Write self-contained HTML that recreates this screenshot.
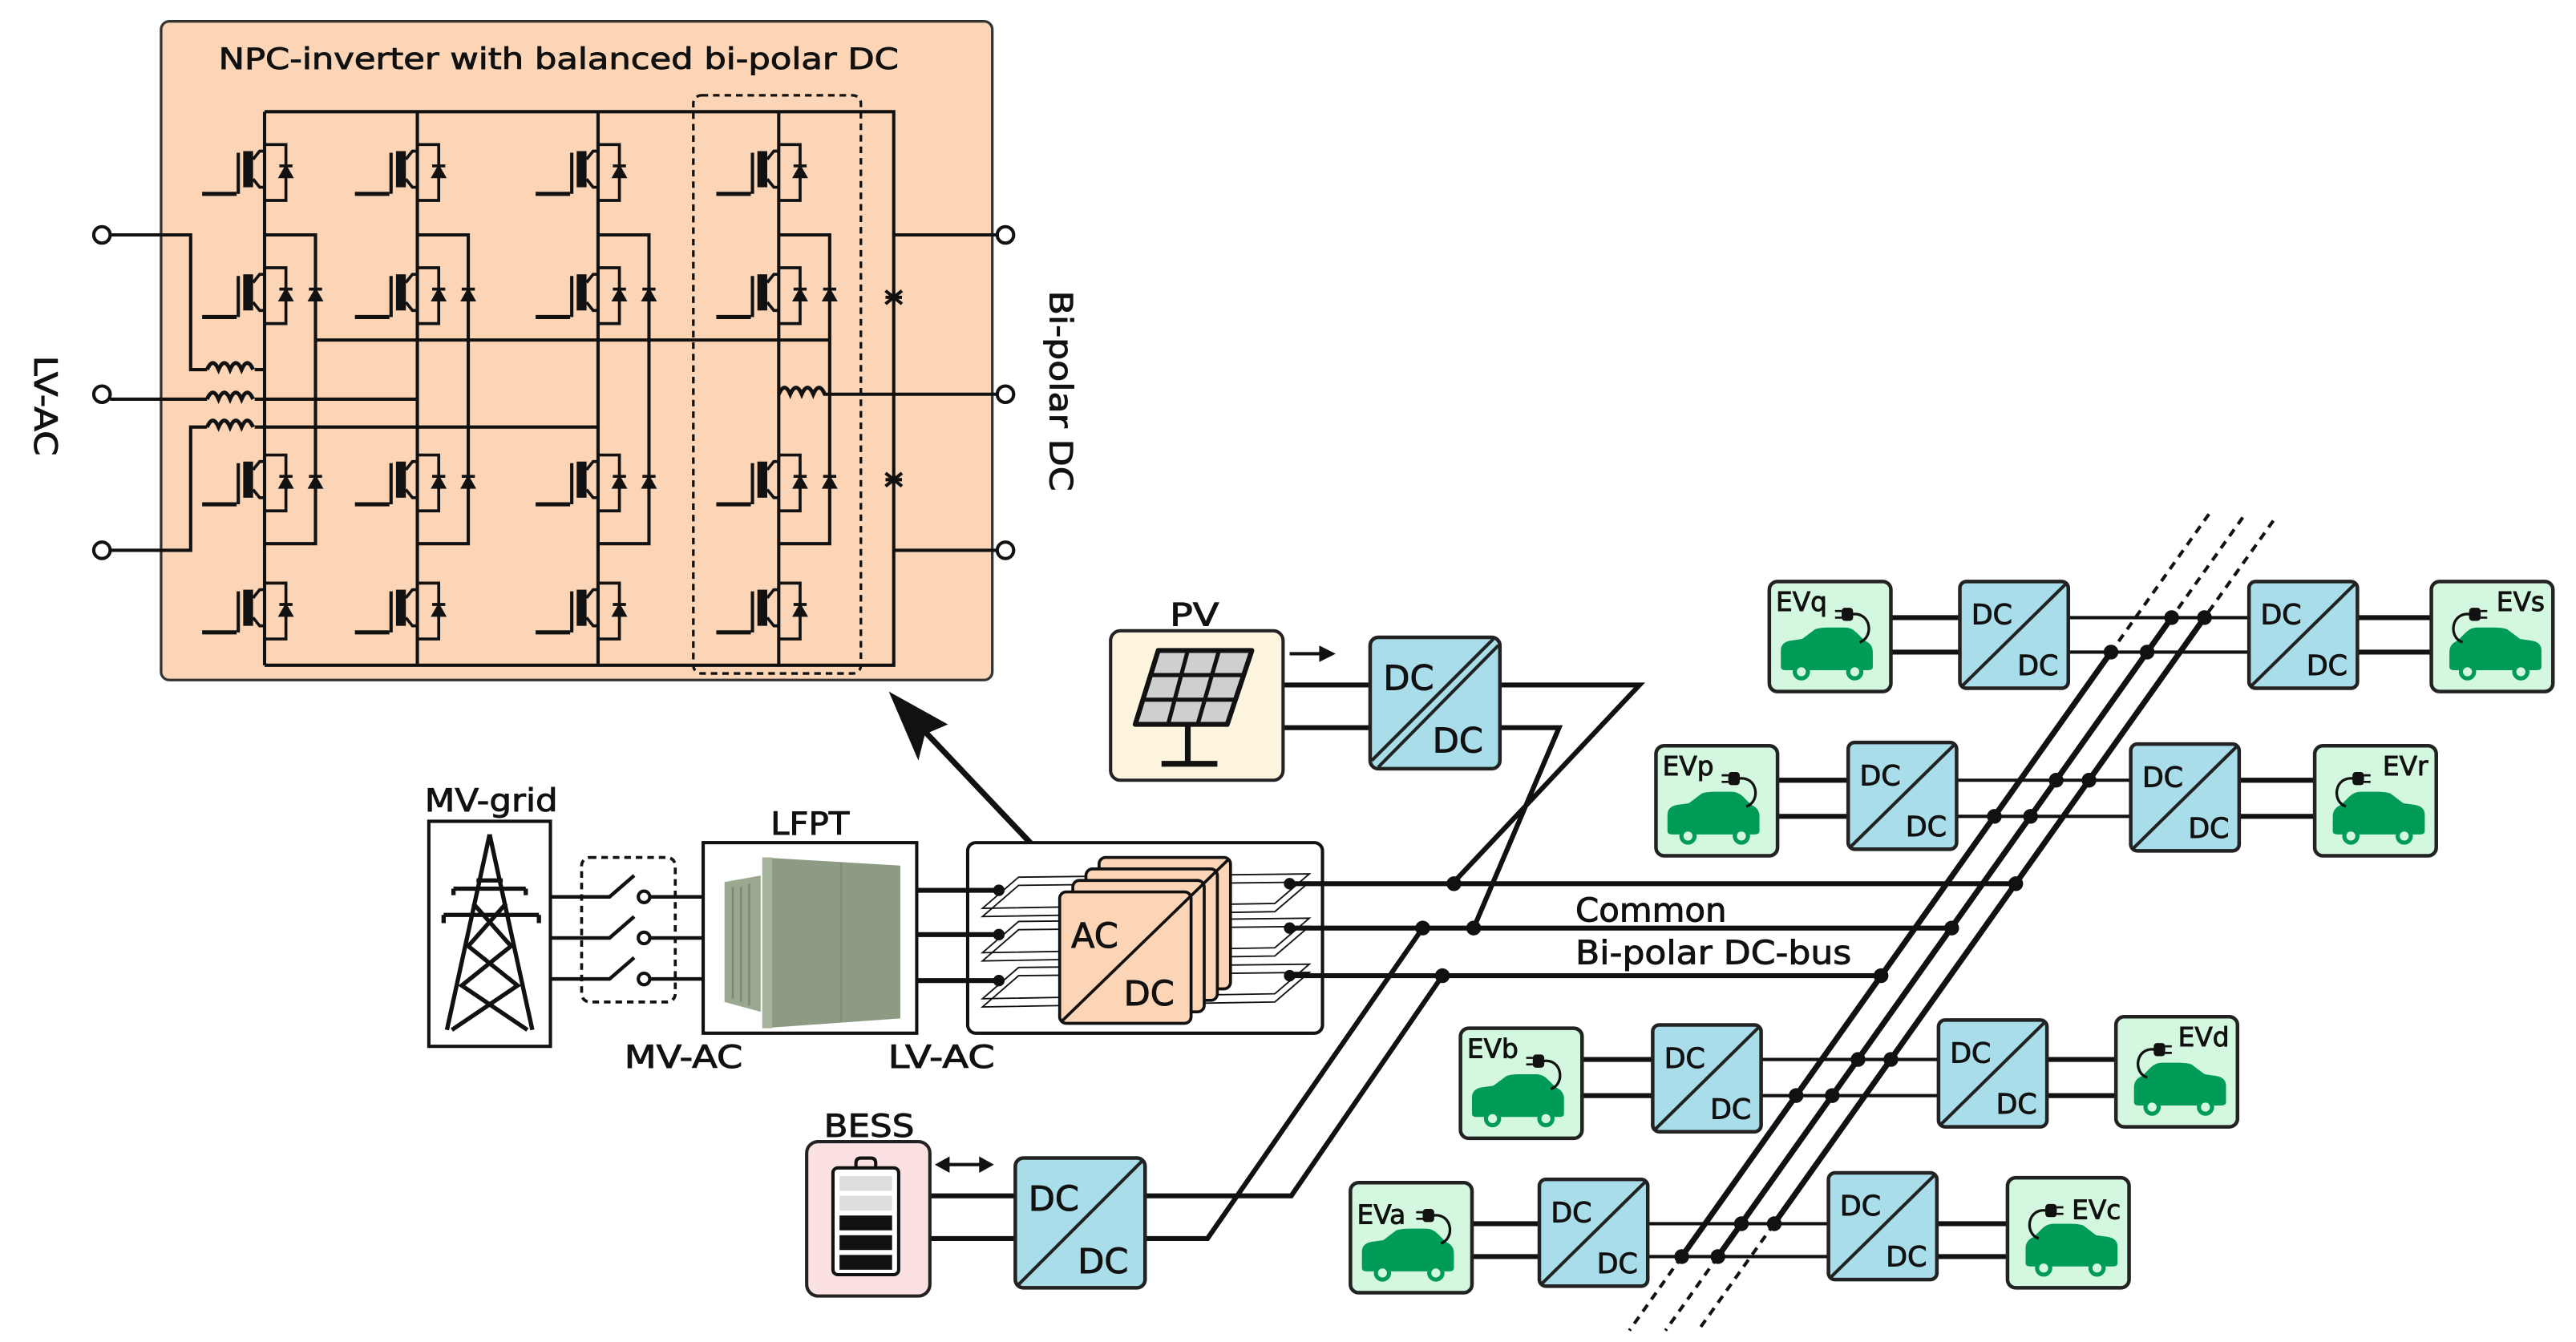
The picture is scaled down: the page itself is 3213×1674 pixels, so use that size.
<!DOCTYPE html>
<html><head><meta charset="utf-8"><style>
html,body{margin:0;padding:0;background:#fff}
svg{display:block}
text{font-family:"DejaVu Sans","Liberation Sans",sans-serif;fill:#111;stroke:#111;stroke-width:0.45}
</style></head><body>
<svg width="3213" height="1674" viewBox="0 0 1568 817" xmlns="http://www.w3.org/2000/svg">
<defs>
<g id="sw" stroke="#111" stroke-width="1.8" fill="none">
<path d="M0,-16 H13 V18 H0"/>
<polygon points="9,4 17,4 13,-3" fill="#111" stroke-width="1"/>
<line x1="9" y1="-3" x2="17" y2="-3"/>
<line x1="-38" y1="14" x2="-17" y2="14" stroke-width="2.5"/>
<line x1="-16" y1="-11" x2="-16" y2="14" stroke-width="2"/>
<rect x="-13" y="-12" width="6" height="22" fill="#111" stroke="none"/>
<path d="M-7,-7 L-3,-12 H0 M-7,5 L-3,10 H0"/>
</g>
<g id="cd" stroke="#111" stroke-width="1">
<polygon points="-4,4 4,4 0,-3" fill="#111"/>
<line x1="-4" y1="-3" x2="4" y2="-3" stroke-width="1.8"/>
</g>
<g id="dc">
<rect x="0" y="0" width="66" height="65" rx="4" fill="#a9dde9" stroke="#222" stroke-width="2.2"/>
<line x1="1" y1="64" x2="65" y2="1" stroke="#222" stroke-width="2"/>
<text x="7" y="26" font-size="17">DC</text>
<text x="35" y="57" font-size="17">DC</text>
</g>
<g id="carL">
<rect x="0" y="0" width="74" height="67" rx="5" fill="#d3f8df" stroke="#222" stroke-width="2.2"/>
<path d="M7,52 V42 Q7,37 13,36 L20,35 L28,29 Q31,28 36,28 H46 Q50,28 53,31 L58,36 Q63,38 63,43 V52 Q63,54 60,54 H10 Q7,54 7,52 Z" fill="#009b57"/>
<circle cx="19.5" cy="55" r="4" fill="#d3f8df" stroke="#009b57" stroke-width="2.5"/>
<circle cx="52" cy="55" r="4" fill="#d3f8df" stroke="#009b57" stroke-width="2.5"/>
<path d="M50,20 C62,18 64,34 55,37" fill="none" stroke="#111" stroke-width="1.6"/>
<rect x="44" y="16" width="7" height="8" rx="2" fill="#111"/>
<path d="M40,18 H44 M40,22 H44" stroke="#111" stroke-width="1.3"/>
</g>
<g id="carR">
<rect x="0" y="0" width="74" height="67" rx="5" fill="#d3f8df" stroke="#222" stroke-width="2.2"/>
<path d="M11,52 V43 Q11,38 16,36 L21,31 Q24,28 28,28 H38 Q43,28 46,29 L54,35 L61,36 Q67,37 67,42 V52 Q67,54 64,54 H14 Q11,54 11,52 Z" fill="#009b57"/>
<circle cx="22" cy="55" r="4" fill="#d3f8df" stroke="#009b57" stroke-width="2.5"/>
<circle cx="54.5" cy="55" r="4" fill="#d3f8df" stroke="#009b57" stroke-width="2.5"/>
<path d="M24,20 C12,18 10,34 19,37" fill="none" stroke="#111" stroke-width="1.6"/>
<rect x="23" y="16" width="7" height="8" rx="2" fill="#111"/>
<path d="M30,18 H34 M30,22 H34" stroke="#111" stroke-width="1.3"/>
</g>
</defs>

<rect x="98" y="13" width="506" height="401" rx="5" fill="#fbd5b5" stroke="#333" stroke-width="1.6"/>
<text x="340" y="42" font-size="18" text-anchor="middle" textLength="414" lengthAdjust="spacingAndGlyphs">NPC-inverter with balanced bi-polar DC</text>
<rect x="422" y="58" width="102" height="352" rx="5" fill="none" stroke="#111" stroke-width="1.6" stroke-dasharray="4,3"/>
<g stroke="#111" stroke-width="2" fill="none">
<path d="M161,68 H544 V405 H161"/>
<path d="M161,68 V405 M254,68 V405 M364,68 V405 M474,68 V405"/>
<path d="M161,143 H192 V331 H161 M254,143 H285 V331 H254 M364,143 H395 V331 H364 M474,143 H505 V331 H474"/>
<path d="M192,207 H505"/>
<path d="M67,143 H116 V225 H126 M155,225 H161"/>
<path d="M67,243 H126 M155,243 H254"/>
<path d="M67,335 H116 V260 H126 M155,260 H364"/>
<path d="M544,143 H607 M544,335 H607 M501,240 H607"/>
</g>
<g fill="none" stroke="#111" stroke-width="2.4">
<path d="M126,225 q3.5,-8 7,0 q3.5,-8 7,0 q3.5,-8 7,0 q3.5,-8 7,0"/>
<path d="M126,243 q3.5,-8 7,0 q3.5,-8 7,0 q3.5,-8 7,0 q3.5,-8 7,0"/>
<path d="M126,260 q3.5,-8 7,0 q3.5,-8 7,0 q3.5,-8 7,0 q3.5,-8 7,0"/>
<path d="M474,240 q3.5,-8 7,0 q3.5,-8 7,0 q3.5,-8 7,0 q3.5,-8 7,0"/>
</g>
<g fill="#fff" stroke="#111" stroke-width="2">
<circle cx="62" cy="143" r="5"/><circle cx="62" cy="240" r="5"/><circle cx="62" cy="335" r="5"/>
<circle cx="612" cy="143" r="5"/><circle cx="612" cy="240" r="5"/><circle cx="612" cy="335" r="5"/>
</g>
<use href="#sw" x="161" y="104"/><use href="#sw" x="161" y="179"/><use href="#sw" x="161" y="293"/><use href="#sw" x="161" y="371"/>
<use href="#sw" x="254" y="104"/><use href="#sw" x="254" y="179"/><use href="#sw" x="254" y="293"/><use href="#sw" x="254" y="371"/>
<use href="#sw" x="364" y="104"/><use href="#sw" x="364" y="179"/><use href="#sw" x="364" y="293"/><use href="#sw" x="364" y="371"/>
<use href="#sw" x="474" y="104"/><use href="#sw" x="474" y="179"/><use href="#sw" x="474" y="293"/><use href="#sw" x="474" y="371"/>
<use href="#cd" x="192" y="179"/><use href="#cd" x="192" y="293"/>
<use href="#cd" x="285" y="179"/><use href="#cd" x="285" y="293"/>
<use href="#cd" x="395" y="179"/><use href="#cd" x="395" y="293"/>
<use href="#cd" x="505" y="179"/><use href="#cd" x="505" y="293"/>
<g stroke="#111" stroke-width="2"><path d="M539,177 l10,8 M549,177 l-10,8 M539,181 h10 M539,288 l10,8 M549,288 l-10,8 M539,292 h10"/></g>
<text transform="translate(21,247) rotate(90)" font-size="19" text-anchor="middle" textLength="61" lengthAdjust="spacingAndGlyphs">LV-AC</text>
<text transform="translate(639,238) rotate(90)" font-size="19" text-anchor="middle" textLength="122" lengthAdjust="spacingAndGlyphs">Bi-polar DC</text>

<line x1="664" y1="552" x2="556" y2="438" stroke="#111" stroke-width="3.5"/>
<polygon points="541,421 577,441 563,447 559,463" fill="#111"/>

<text x="299" y="494" font-size="19" text-anchor="middle" textLength="81" lengthAdjust="spacingAndGlyphs">MV-grid</text>
<rect x="261" y="500" width="74" height="137" fill="#fff" stroke="#111" stroke-width="2"/>
<g stroke="#111" stroke-width="2.6" fill="none">
<path d="M298,508 L272,627 M298,508 L324,627"/>
<path d="M276,541 H320 M270,557 H328 M276,541 v4 M320,541 v4 M270,557 v5 M328,557 v5"/>
<path d="M288,550 L311,576 L281,600 L321,627 M308,550 L285,576 L315,600 L275,627 M290,536 H306"/>
</g>
<rect x="354" y="522" width="57" height="88" rx="5" fill="none" stroke="#111" stroke-width="1.8" stroke-dasharray="4,3"/>
<g stroke="#111" stroke-width="2.2" fill="none">
<path d="M335,546 H371 L386,533 M396,546 H428"/>
<path d="M335,571 H371 L386,558 M396,571 H428"/>
<path d="M335,596 H371 L386,583 M396,596 H428"/>
</g>
<g fill="#fff" stroke="#111" stroke-width="2"><circle cx="392" cy="546" r="3.5"/><circle cx="392" cy="571" r="3.5"/><circle cx="392" cy="596" r="3.5"/></g>
<text x="493" y="508" font-size="19" text-anchor="middle" textLength="48" lengthAdjust="spacingAndGlyphs">LFPT</text>
<rect x="428" y="513" width="130" height="116" fill="#fff" stroke="#111" stroke-width="2"/>
<polygon points="441,537 463,533 463,616 441,610" fill="#9aa890"/>
<g stroke="#7a8872" stroke-width="1.2"><path d="M446,540 V608 M451,540 V610 M456,538 V612"/></g>
<polygon points="464,522 548,527 548,620 464,626" fill="#8d9b85"/>
<line x1="512" y1="525" x2="512" y2="622" stroke="#7f8c78" stroke-width="1"/>
<polygon points="464,522 470,522 470,626 464,626" fill="#a6b39c"/>
<text x="416" y="650" font-size="19" text-anchor="middle" textLength="72" lengthAdjust="spacingAndGlyphs">MV-AC</text>
<text x="573" y="650" font-size="19" text-anchor="middle" textLength="65" lengthAdjust="spacingAndGlyphs">LV-AC</text>

<rect x="589" y="513" width="216" height="116" rx="5" fill="#fff" stroke="#111" stroke-width="2"/>
<g stroke="#111" stroke-width="3"><path d="M558,542 H608 M558,569 H608 M558,597 H608"/></g>
<g fill="none" stroke="#111" stroke-width="0.9">
<polygon points="598,553 620,534 797,532 776,550"/><polygon points="598,558 620,539 797,537 776,555"/>
<polygon points="598,580 620,561 797,559 776,577"/><polygon points="598,585 620,566 797,564 776,582"/>
<polygon points="598,608 620,589 797,587 776,605"/><polygon points="598,613 620,594 797,592 776,610"/>
</g>
<g fill="#fbd5b5" stroke="#111" stroke-width="1.8">
<rect x="669" y="522" width="80" height="80" rx="4"/>
<rect x="661" y="529" width="80" height="80" rx="4"/>
<rect x="653" y="536" width="80" height="80" rx="4"/>
<rect x="645" y="543" width="80" height="80" rx="4"/>
</g>
<line x1="646" y1="622" x2="748" y2="523" stroke="#111" stroke-width="1.8"/>
<text x="652" y="577" font-size="21">AC</text>
<text x="684" y="612" font-size="21">DC</text>
<g fill="#111"><circle cx="608" cy="542" r="3.5"/><circle cx="608" cy="569" r="3.5"/><circle cx="608" cy="597" r="3.5"/>
<circle cx="785" cy="538" r="3.5"/><circle cx="785" cy="565" r="3.5"/><circle cx="785" cy="594" r="3.5"/></g>

<g stroke="#111" stroke-width="3" fill="none">
<path d="M785,538 H1227 M785,565 H1188 M785,594 H1145"/>
<path d="M781,417 H998 L885,537 M781,443 H949 L897,565"/>
<path d="M566,728 H786 L878,594 M566,754 H735 L866,565"/>
</g>
<text x="959" y="561" font-size="20" textLength="92" lengthAdjust="spacingAndGlyphs">Common</text>
<text x="959" y="587" font-size="20" textLength="168" lengthAdjust="spacingAndGlyphs">Bi-polar DC-bus</text>

<text x="727" y="381" font-size="19" text-anchor="middle" textLength="30" lengthAdjust="spacingAndGlyphs">PV</text>
<rect x="676" y="384" width="105" height="91" rx="6" fill="#fdf4dd" stroke="#222" stroke-width="2"/>
<polygon points="705,396 762,396 747,441 691,441" fill="#cfcfcf" stroke="#111" stroke-width="3" stroke-linejoin="round"/>
<g stroke="#111" stroke-width="2.5"><path d="M700,411 H757 M696,426 H752 M723,396 L711,441 M742,396 L729,441"/>
<path d="M723,441 V464 M707,465 H741" stroke-width="3.5"/></g>
<line x1="785" y1="398" x2="805" y2="398" stroke="#111" stroke-width="2"/>
<polygon points="813,398 803,393 803,403" fill="#111"/>
<rect x="834" y="388" width="79" height="80" rx="5" fill="#a9dde9" stroke="#222" stroke-width="2.2"/>
<line x1="835" y1="463" x2="909" y2="389" stroke="#222" stroke-width="2"/>
<line x1="839" y1="467" x2="912" y2="393" stroke="#222" stroke-width="2"/>
<text x="842" y="420" font-size="21">DC</text>
<text x="872" y="458" font-size="21">DC</text>

<text x="529" y="692" font-size="19" text-anchor="middle" textLength="55" lengthAdjust="spacingAndGlyphs">BESS</text>
<rect x="491" y="695" width="75" height="94" rx="7" fill="#fbe1e1" stroke="#222" stroke-width="2"/>
<rect x="507" y="711" width="40" height="65" rx="3" fill="#fff" stroke="#111" stroke-width="2"/>
<path d="M521,711 v-3 q0,-3 3,-3 h6 q3,0 3,3 v3" fill="none" stroke="#111" stroke-width="2"/>
<g fill="#ddd"><rect x="511" y="716" width="32" height="9"/><rect x="511" y="728" width="32" height="9"/></g>
<g fill="#111"><rect x="511" y="740" width="32" height="9"/><rect x="511" y="752" width="32" height="9"/><rect x="511" y="764" width="32" height="9"/></g>
<line x1="575" y1="709" x2="598" y2="709" stroke="#111" stroke-width="2"/>
<polygon points="569,709 578,704 578,714" fill="#111"/><polygon points="605,709 596,704 596,714" fill="#111"/>
<rect x="618" y="705" width="79" height="79" rx="5" fill="#a9dde9" stroke="#222" stroke-width="2.2"/>
<line x1="619" y1="783" x2="696" y2="706" stroke="#222" stroke-width="2"/>
<text x="626" y="737" font-size="21">DC</text>
<text x="656" y="775" font-size="21">DC</text>

<g stroke="#111" stroke-width="3">
<path d="M1151,376 H1193 M1151,397 H1193 M1435,376 H1480 M1435,397 H1480"/>
<path d="M1082,475 H1125 M1082,497 H1125 M1363,475 H1409 M1363,497 H1409"/>
<path d="M963,645 H1006 M963,667 H1006 M1245,645 H1288 M1245,667 H1288"/>
<path d="M896,745 H937 M896,765 H937 M1179,745 H1222 M1179,765 H1222"/>
</g>
<g stroke="#111" stroke-width="2">
<path d="M1259,376 H1369 M1259,397 H1369"/>
<path d="M1191,475 H1297 M1191,497 H1297"/>
<path d="M1071,645 H1180 M1071,667 H1180"/>
<path d="M1003,745 H1113 M1003,765 H1113"/>
</g>
<g stroke="#111" stroke-width="3.5">
<line x1="1285" y1="397" x2="1023.7" y2="765"/>
<line x1="1321.9" y1="376" x2="1045.7" y2="765"/>
<line x1="1341.9" y1="376" x2="1079.9" y2="745"/>
</g>
<g stroke="#111" stroke-width="2" stroke-dasharray="5,4">
<line x1="1344.6" y1="313" x2="1285" y2="397"/><line x1="1023.7" y1="765" x2="991.8" y2="810"/>
<line x1="1365.2" y1="315" x2="1321.9" y2="376"/><line x1="1045.7" y1="765" x2="1013.8" y2="810"/>
<line x1="1383.8" y1="317" x2="1341.9" y2="376"/><line x1="1079.9" y1="745" x2="1033.7" y2="810"/>
</g>
<g fill="#111">
<circle cx="885" cy="538" r="4.5"/><circle cx="897" cy="565" r="4.5"/><circle cx="866" cy="565" r="4.5"/><circle cx="878" cy="594" r="4.5"/>
<circle cx="1227" cy="538" r="4.5"/><circle cx="1188" cy="565" r="4.5"/><circle cx="1145" cy="594" r="4.5"/>
<circle cx="1321.9" cy="376" r="4.5"/><circle cx="1341.9" cy="376" r="4.5"/><circle cx="1285" cy="397" r="4.5"/><circle cx="1307" cy="397" r="4.5"/>
<circle cx="1251.6" cy="475" r="4.5"/><circle cx="1271.6" cy="475" r="4.5"/><circle cx="1214" cy="497" r="4.5"/><circle cx="1236" cy="497" r="4.5"/>
<circle cx="1131" cy="645" r="4.5"/><circle cx="1151" cy="645" r="4.5"/><circle cx="1093.3" cy="667" r="4.5"/><circle cx="1115.3" cy="667" r="4.5"/>
<circle cx="1060" cy="745" r="4.5"/><circle cx="1080" cy="745" r="4.5"/><circle cx="1023.7" cy="765" r="4.5"/><circle cx="1045.7" cy="765" r="4.5"/>
</g>
<use href="#dc" x="1193" y="354"/><use href="#dc" x="1369" y="354"/>
<use href="#dc" x="1125" y="452"/><use href="#dc" x="1297" y="453"/>
<use href="#dc" x="1006" y="624"/><use href="#dc" x="1180" y="621"/>
<use href="#dc" x="937" y="718"/><use href="#dc" x="1113" y="714"/>
<use href="#carL" x="1077" y="354"/><text x="1081" y="372" font-size="16">EVq</text>
<use href="#carR" x="1480" y="354"/><text x="1549" y="372" font-size="16" text-anchor="end">EVs</text>
<use href="#carL" x="1008" y="454"/><text x="1012" y="472" font-size="16">EVp</text>
<use href="#carR" x="1409" y="454"/><text x="1478" y="472" font-size="16" text-anchor="end">EVr</text>
<use href="#carL" x="889" y="626"/><text x="893" y="644" font-size="16">EVb</text>
<use href="#carR" x="1288" y="619"/><text x="1357" y="637" font-size="16" text-anchor="end">EVd</text>
<use href="#carL" x="822" y="720"/><text x="826" y="745" font-size="16">EVa</text>
<use href="#carR" x="1222" y="717"/><text x="1291" y="742" font-size="16" text-anchor="end">EVc</text>
</svg>
</body></html>
